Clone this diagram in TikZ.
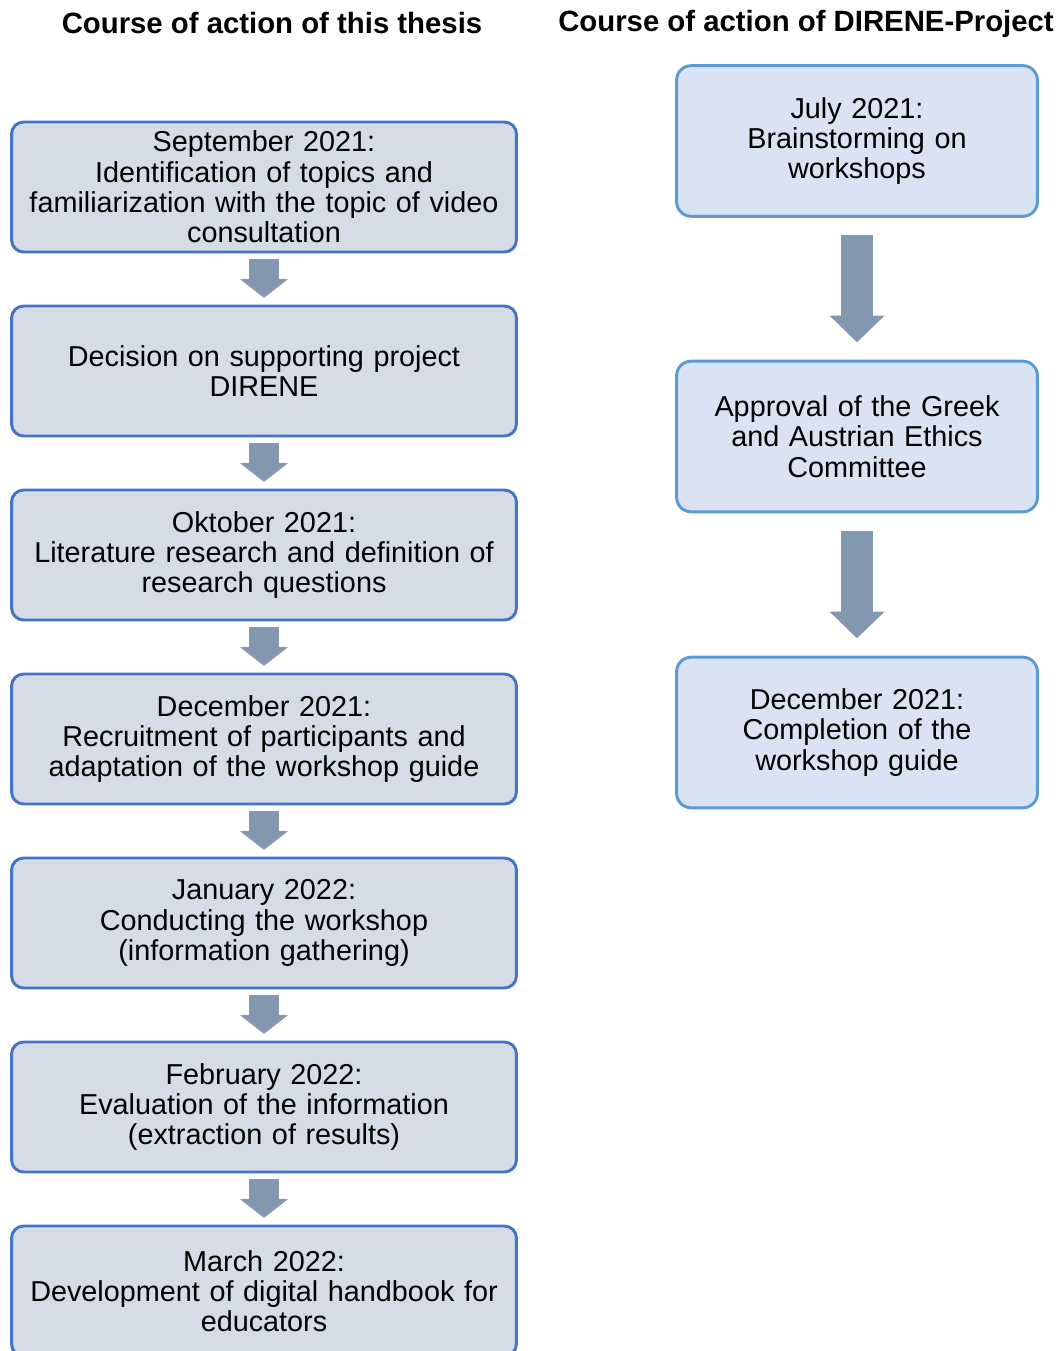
\documentclass[tikz,border=0pt]{standalone}
\usepackage{fontspec}
\setmainfont{Liberation Sans}
\usetikzlibrary{arrows.meta}
\definecolor{lfill}{HTML}{D6DCE5}
\definecolor{ldraw}{HTML}{4472C4}
\definecolor{rfill}{HTML}{DAE3F3}
\definecolor{rdraw}{HTML}{5B9BD5}
\definecolor{arrowgray}{HTML}{8497B0}
\tikzset{
  lstage/.style={draw=ldraw,fill=lfill,line width=2.2pt,rounded corners=9pt,
    minimum width=378pt,minimum height=97.5pt,text width=372pt,align=center,
    font=\fontsize{21.6}{22.7}\selectfont},
  rstage/.style={draw=rdraw,fill=rfill,line width=2.2pt,rounded corners=11pt,
    minimum width=270pt,minimum height=113pt,text width=264pt,align=center,
    font=\fontsize{21.6}{22.7}\selectfont},
  title/.style={font=\bfseries\fontsize{22}{24}\selectfont},
  sarrow/.style={draw=arrowgray,line width=22pt,
    -{Triangle[width=35pt,length=14pt]}},
  barrow/.style={draw=arrowgray,line width=24pt,
    -{Triangle[width=40pt,length=20pt]}}
}
\newcommand{\lbox}[3]{%
 \node[lstage] ({#1}) at ({#2}) {#3};%
}
\newcommand{\rbox}[3]{%
 \node[rstage] ({#1}) at ({#2}) {#3};%
}
\begin{document}
\begin{tikzpicture}[x=0.75pt,y=-0.75pt]
  \useasboundingbox (0,0) rectangle (1060,1351);
  \clip (0,0) rectangle (1060,1351);
  \node[title] (tl) at (272,23) {Course of action of this thesis};
  \node[title] (tr) at (806,24) {Course of action of DIRENE-Project};
  % left column
  \lbox{l1}{264,187}{September 2021:\\Identification of topics and\\familiarization with the topic of video\\consultation}
  \lbox{l2}{264,371}{Decision on supporting project\\DIRENE}
  \lbox{l3}{264,555}{Oktober 2021:\\Literature research and definition of\\research questions}
  \lbox{l4}{264,739}{December 2021:\\Recruitment of participants and\\adaptation of the workshop guide}
  \lbox{l5}{264,923}{January 2022:\\Conducting the workshop\\(information gathering)}
  \lbox{l6}{264,1107}{February 2022:\\Evaluation of the information\\(extraction of results)}
  \lbox{l7}{264,1291}{March 2022:\\Development of digital handbook for\\educators}
  % right column
  \rbox{r1}{857,141}{July 2021:\\Brainstorming on\\workshops}
  \rbox{r2}{857,436.5}{Approval of the Greek\\and Austrian Ethics\\Committee}
  \rbox{r3}{857,732.5}{December 2021:\\Completion of the\\workshop guide}
  % arrows
  \foreach \a/\b in {l1/l2,l2/l3,l3/l4,l4/l5,l5/l6,l6/l7}
    \draw[sarrow,shorten <=4pt,shorten >=5pt] (\a.south) -- (\b.north);
  \foreach \a/\b in {r1/r2,r2/r3}
    \draw[barrow,shorten <=13pt,shorten >=13pt] (\a.south) -- (\b.north);
\end{tikzpicture}
\end{document}
